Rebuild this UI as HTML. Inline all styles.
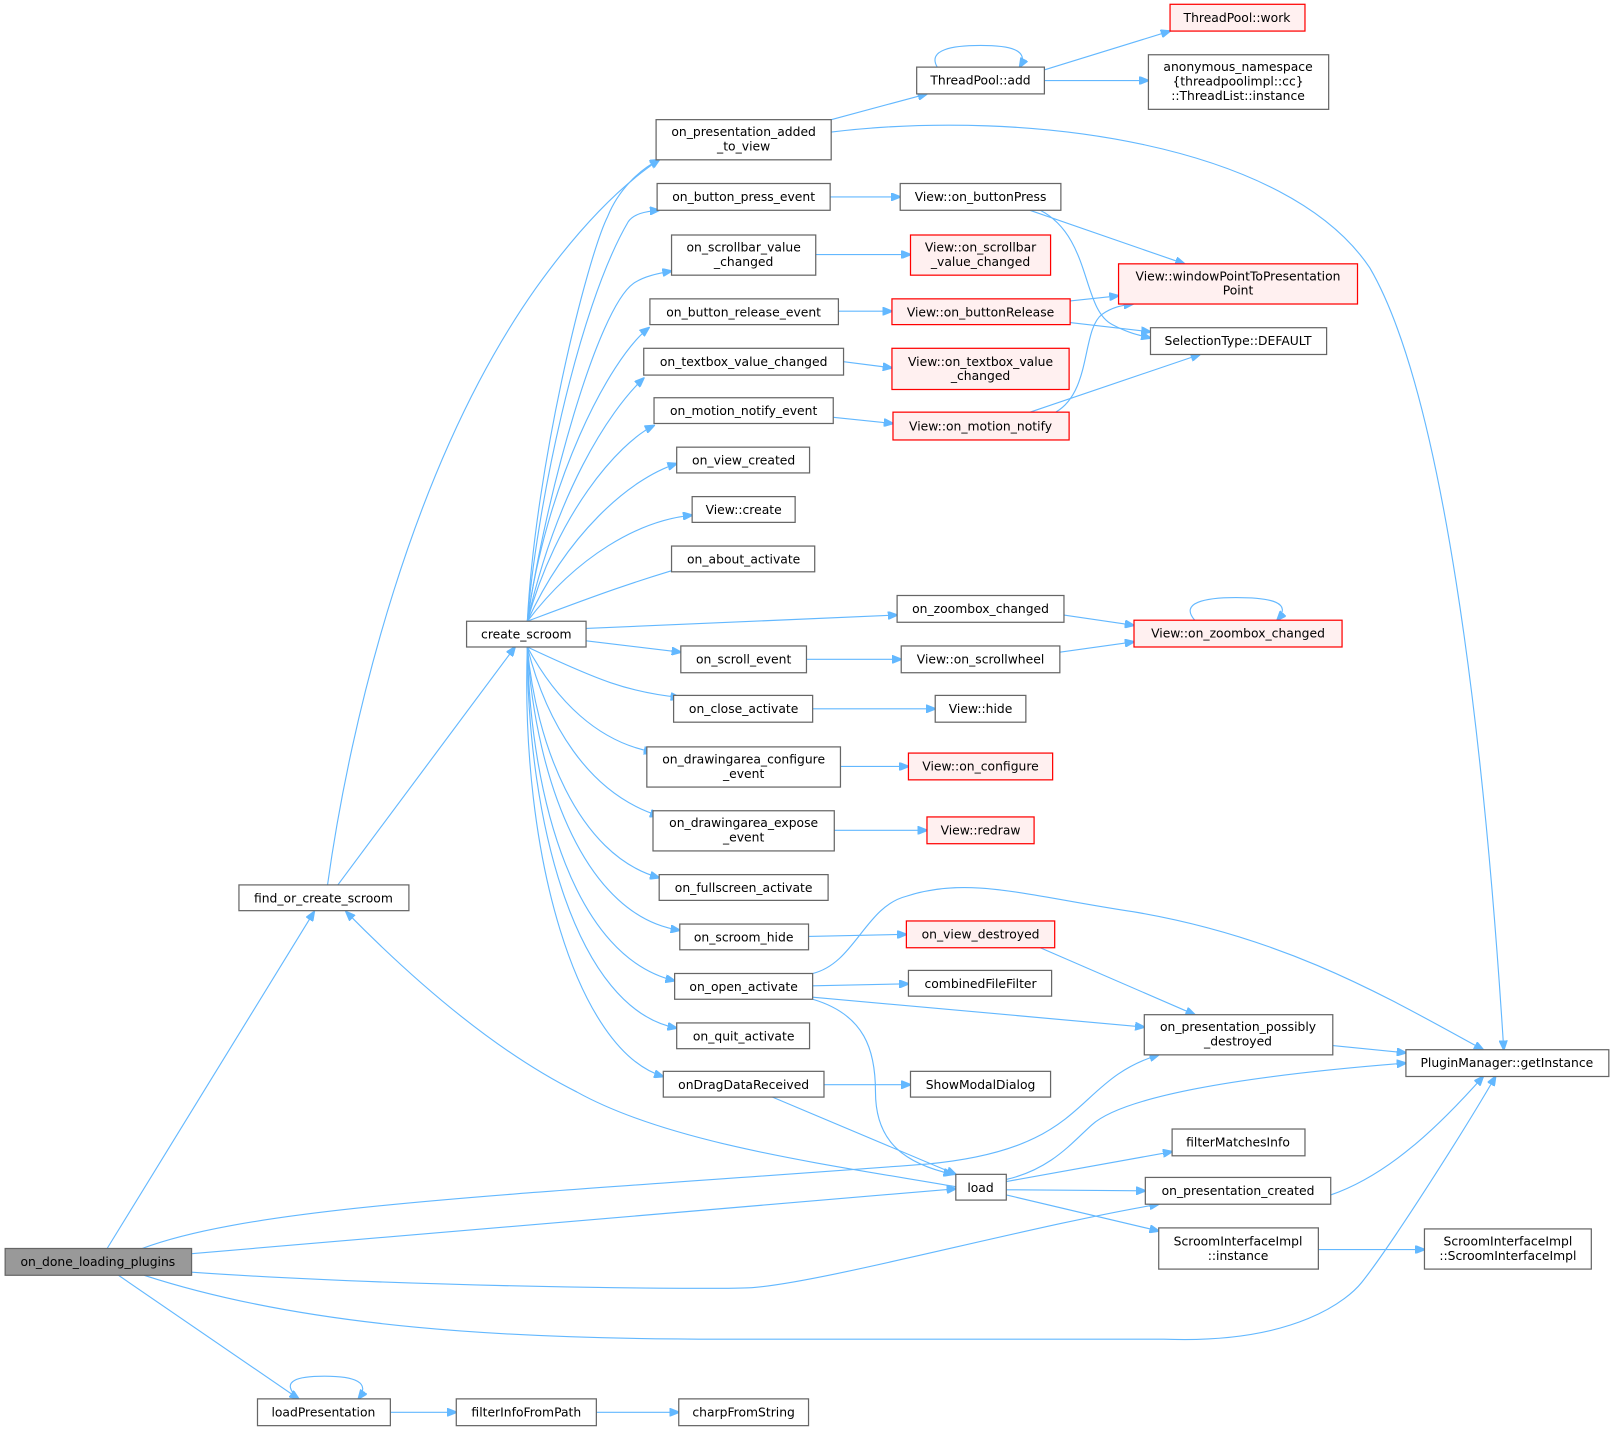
<!DOCTYPE html>
<html><head><meta charset="utf-8"><style>
html,body{margin:0;padding:0;background:#fff;}
svg{display:block;}
text{font-family:"DejaVu Sans","Liberation Sans",sans-serif;font-size:12px;fill:#000;text-anchor:middle;}
.n{fill:#fff;stroke:#666;stroke-width:1.2;}
.r{fill:#fff0f0;stroke:#f00;stroke-width:1.2;}
.g{fill:#999;stroke:#666;stroke-width:1.2;}
.e{fill:none;stroke:#63b8ff;stroke-width:1.1;marker-end:url(#a);}
</style></head><body>
<svg width="1615" height="1432" viewBox="0 0 1568 1390" xmlns="http://www.w3.org/2000/svg">
<defs><marker id="a" markerWidth="10" markerHeight="8" refX="9" refY="4" orient="auto" markerUnits="userSpaceOnUse"><path d="M0,0 L10,4 L0,8 z" fill="#63b8ff" stroke="#63b8ff"/></marker></defs>

<!-- edges -->
<path class="e" d="M104,1212 L305,885"/>
<path class="e" d="M138,1212 C250,1170 500,1160 900,1130 C1060,1115 1040,1050 1125,1024"/>
<path class="e" d="M186,1217 L928,1154"/>
<path class="e" d="M186,1235 C400,1250 700,1252 730,1250 C800,1245 1000,1190 1125,1169"/>
<path class="e" d="M140,1238 C300,1290 500,1300 700,1300 L1130,1300 C1260,1305 1310,1260 1322,1245 C1350,1210 1420,1100 1452,1045"/>
<path class="e" d="M115,1238 L290,1358"/>
<path class="e" d="M290,1358 C270,1340 290,1336 315,1336 C345,1336 360,1342 348,1358"/>
<path class="e" d="M379,1371 L443,1371"/>
<path class="e" d="M579,1371 L659,1371"/>
<path class="e" d="M318,859 C340,700 400,450 520,280 C570,210 610,175 640,155"/>
<path class="e" d="M328,859 L500,628"/>
<path class="e" d="M928,1152 C800,1130 650,1110 560,1060 C480,1020 400,950 336,885"/>
<!-- create_scroom fan -->
<path class="e" d="M512,603 C520,450 570,250 590,210 C600,185 620,165 640,155"/>
<path class="e" d="M512,603 C520,500 560,300 610,215 C615,208 625,205 640,204"/>
<path class="e" d="M512,603 C530,480 580,300 615,275 C625,268 640,265 652,263"/>
<path class="e" d="M512,603 C530,470 590,350 630,318"/>
<path class="e" d="M512,603 C540,480 590,400 625,367"/>
<path class="e" d="M512,603 C540,500 600,430 635,413"/>
<path class="e" d="M512,603 C550,520 610,465 657,450"/>
<path class="e" d="M512,603 C560,540 620,505 672,500"/>
<path class="e" d="M512,603 C560,585 620,562 680,546"/>
<path class="e" d="M569,610 L871,597"/>
<path class="e" d="M569,622 L661,633"/>
<path class="e" d="M512,628 C580,660 610,672 660,677"/>
<path class="e" d="M512,628 C540,680 580,720 634,730"/>
<path class="e" d="M512,628 C530,700 570,770 640,792"/>
<path class="e" d="M512,628 C520,720 560,830 640,852"/>
<path class="e" d="M512,628 C520,760 570,890 660,903"/>
<path class="e" d="M512,628 C515,780 560,930 655,952"/>
<path class="e" d="M512,628 C512,800 560,980 657,998"/>
<path class="e" d="M512,628 C505,830 560,1020 644,1045"/>
<!-- right side -->
<path class="e" d="M807,128 C1000,105 1250,140 1330,260 C1400,380 1440,700 1460,1019"/>
<path class="e" d="M807,116 L900,91"/>
<path class="e" d="M910,65 C900,48 925,44 952,44 C980,44 1000,48 990,65"/>
<path class="e" d="M1000,72 L1136,30"/>
<path class="e" d="M1014,78 L1115,78"/>
<path class="e" d="M806,191 L874,191"/>
<path class="e" d="M1000,204 L1150,256"/>
<path class="e" d="M1010,204 C1060,230 1050,300 1080,315 C1095,323 1105,325 1117,328"/>
<path class="e" d="M792,247 L884,247"/>
<path class="e" d="M814,302 L866,302"/>
<path class="e" d="M1039,292 L1086,287"/>
<path class="e" d="M1039,313 L1117,322"/>
<path class="e" d="M819,351 L866,357"/>
<path class="e" d="M809,405 L867,411"/>
<path class="e" d="M1000,400 L1165,344"/>
<path class="e" d="M1025,400 C1060,380 1050,320 1070,305 C1080,298 1090,296 1100,295"/>
<path class="e" d="M1033,597 L1101,607"/>
<path class="e" d="M1160,602 C1145,585 1170,580 1200,580 C1235,580 1255,585 1240,602"/>
<path class="e" d="M783,640 L875,640"/>
<path class="e" d="M1029,633 L1101,623"/>
<path class="e" d="M789,688 L908,688"/>
<path class="e" d="M816,744 L882,744"/>
<path class="e" d="M810,806 L900,806"/>
<path class="e" d="M785,909 L880,907"/>
<path class="e" d="M1010,920 L1160,985"/>
<path class="e" d="M789,945 C830,935 840,880 880,870 C940,850 1000,870 1100,885 C1250,910 1350,970 1440,1019"/>
<path class="e" d="M789,957 L882,955"/>
<path class="e" d="M789,968 L1111,997"/>
<path class="e" d="M789,970 C840,985 850,1020 850,1060 C850,1110 880,1130 925,1140"/>
<path class="e" d="M1294,1015 L1365,1022"/>
<path class="e" d="M800,1053 L884,1053"/>
<path class="e" d="M750,1065 L928,1140"/>
<path class="e" d="M977,1145 C1020,1135 1040,1110 1060,1092 C1090,1065 1200,1045 1365,1032"/>
<path class="e" d="M977,1147 L1138,1118"/>
<path class="e" d="M977,1155 L1112,1156"/>
<path class="e" d="M977,1160 L1125,1195"/>
<path class="e" d="M1292,1160 C1350,1140 1400,1090 1440,1045"/>
<path class="e" d="M1280,1213 L1383,1213"/>

<!-- nodes -->
<rect class="g" x="5" y="1212" width="181" height="26"/><text x="95" y="1229">on_done_loading_plugins</text>
<rect class="n" x="232" y="859" width="165" height="25"/><text x="314" y="876">find_or_create_scroom</text>
<rect class="n" x="250" y="1358" width="129" height="26"/><text x="314" y="1375">loadPresentation</text>
<rect class="n" x="443" y="1358" width="136" height="26"/><text x="511" y="1375">filterInfoFromPath</text>
<rect class="n" x="659" y="1358" width="126" height="26"/><text x="722" y="1375">charpFromString</text>
<rect class="n" x="453" y="603" width="116" height="25"/><text x="511" y="620">create_scroom</text>
<rect class="n" x="637" y="116" width="170" height="39"/><text x="722" y="132">on_presentation_added</text><text x="722" y="146">_to_view</text>
<rect class="n" x="890" y="65" width="124" height="26"/><text x="952" y="82">ThreadPool::add</text>
<rect class="r" x="1136" y="4" width="131" height="26"/><text x="1201" y="21">ThreadPool::work</text>
<rect class="n" x="1115" y="53" width="175" height="53"/><text x="1202" y="69">anonymous_namespace</text><text x="1202" y="83">{threadpoolimpl::cc}</text><text x="1202" y="97">::ThreadList::instance</text>
<rect class="n" x="638" y="178" width="168" height="26"/><text x="722" y="195">on_button_press_event</text>
<rect class="n" x="874" y="178" width="156" height="26"/><text x="952" y="195">View::on_buttonPress</text>
<rect class="n" x="652" y="228" width="140" height="39"/><text x="722" y="244">on_scrollbar_value</text><text x="722" y="258">_changed</text>
<rect class="r" x="884" y="228" width="136" height="39"/><text x="952" y="244">View::on_scrollbar</text><text x="952" y="258">_value_changed</text>
<rect class="r" x="1086" y="256" width="232" height="39"/><text x="1202" y="272">View::windowPointToPresentation</text><text x="1202" y="286">Point</text>
<rect class="n" x="631" y="290" width="183" height="25"/><text x="722" y="307">on_button_release_event</text>
<rect class="r" x="866" y="290" width="173" height="25"/><text x="952" y="307">View::on_buttonRelease</text>
<rect class="n" x="1117" y="318" width="171" height="26"/><text x="1202" y="335">SelectionType::DEFAULT</text>
<rect class="n" x="625" y="338" width="194" height="26"/><text x="722" y="355">on_textbox_value_changed</text>
<rect class="r" x="866" y="338" width="172" height="40"/><text x="952" y="355">View::on_textbox_value</text><text x="952" y="369">_changed</text>
<rect class="n" x="635" y="386" width="174" height="25"/><text x="722" y="403">on_motion_notify_event</text>
<rect class="r" x="867" y="400" width="171" height="27"/><text x="952" y="418">View::on_motion_notify</text>
<rect class="n" x="657" y="434" width="129" height="25"/><text x="722" y="451">on_view_created</text>
<rect class="n" x="672" y="482" width="100" height="25"/><text x="722" y="499">View::create</text>
<rect class="n" x="652" y="530" width="139" height="25"/><text x="722" y="547">on_about_activate</text>
<rect class="n" x="871" y="578" width="162" height="26"/><text x="952" y="595">on_zoombox_changed</text>
<rect class="r" x="1101" y="602" width="202" height="26"/><text x="1202" y="619">View::on_zoombox_changed</text>
<rect class="n" x="661" y="627" width="122" height="26"/><text x="722" y="644">on_scroll_event</text>
<rect class="n" x="875" y="627" width="154" height="26"/><text x="952" y="644">View::on_scrollwheel</text>
<rect class="n" x="654" y="675" width="135" height="26"/><text x="722" y="692">on_close_activate</text>
<rect class="n" x="908" y="675" width="88" height="26"/><text x="952" y="692">View::hide</text>
<rect class="n" x="628" y="725" width="188" height="39"/><text x="722" y="741">on_drawingarea_configure</text><text x="722" y="755">_event</text>
<rect class="r" x="882" y="731" width="140" height="26"/><text x="952" y="748">View::on_configure</text>
<rect class="n" x="634" y="787" width="176" height="39"/><text x="722" y="803">on_drawingarea_expose</text><text x="722" y="817">_event</text>
<rect class="r" x="900" y="793" width="104" height="26"/><text x="952" y="810">View::redraw</text>
<rect class="n" x="640" y="849" width="164" height="25"/><text x="722" y="866">on_fullscreen_activate</text>
<rect class="n" x="660" y="897" width="125" height="25"/><text x="722" y="914">on_scroom_hide</text>
<rect class="r" x="880" y="894" width="144" height="26"/><text x="952" y="911">on_view_destroyed</text>
<rect class="n" x="655" y="945" width="134" height="25"/><text x="722" y="962">on_open_activate</text>
<rect class="n" x="882" y="942" width="139" height="25"/><text x="952" y="959">combinedFileFilter</text>
<rect class="n" x="657" y="993" width="129" height="25"/><text x="722" y="1010">on_quit_activate</text>
<rect class="n" x="1111" y="985" width="183" height="39"/><text x="1202" y="1001">on_presentation_possibly</text><text x="1202" y="1015">_destroyed</text>
<rect class="n" x="1365" y="1019" width="197" height="26"/><text x="1463" y="1036">PluginManager::getInstance</text>
<rect class="n" x="644" y="1040" width="156" height="25"/><text x="722" y="1057">onDragDataReceived</text>
<rect class="n" x="884" y="1040" width="136" height="25"/><text x="952" y="1057">ShowModalDialog</text>
<rect class="n" x="1138" y="1096" width="129" height="26"/><text x="1202" y="1113">filterMatchesInfo</text>
<rect class="n" x="928" y="1140" width="49" height="25"/><text x="952" y="1157">load</text>
<rect class="n" x="1112" y="1143" width="180" height="26"/><text x="1202" y="1160">on_presentation_created</text>
<rect class="n" x="1125" y="1192" width="155" height="40"/><text x="1202" y="1209">ScroomInterfaceImpl</text><text x="1202" y="1223">::instance</text>
<rect class="n" x="1383" y="1193" width="162" height="39"/><text x="1464" y="1209">ScroomInterfaceImpl</text><text x="1464" y="1223">::ScroomInterfaceImpl</text>
</svg>
</body></html>
